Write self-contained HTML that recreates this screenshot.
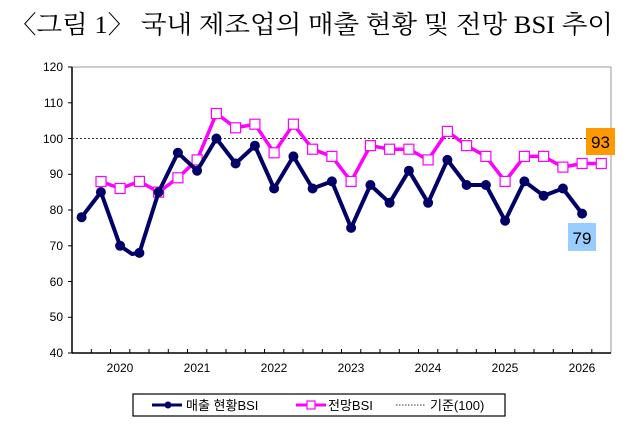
<!DOCTYPE html>
<html><head><meta charset="utf-8"><style>
body{margin:0;background:#fff;}
svg{display:block;}
</style></head><body>
<svg width="640" height="431" xmlns="http://www.w3.org/2000/svg" font-family="Liberation Sans, DejaVu Sans, sans-serif">
<text x="10" y="33" font-family="Liberation Serif, Noto Serif CJK SC, serif" font-size="25" fill="#000" textLength="603" lengthAdjust="spacingAndGlyphs">〈그림 1〉 국내 제조업의 매출 현황 및 전망 BSI 추이</text>
<g stroke="#000" stroke-width="1">
<line x1="72" y1="67" x2="611" y2="67" stroke="#999"/>
<line x1="611" y1="67" x2="611" y2="353" stroke="#999"/>
<line x1="72" y1="67" x2="72" y2="353" stroke-width="1.5"/>
<line x1="72" y1="353" x2="611" y2="353" stroke-width="1.5"/>
</g>
<g stroke="#000" stroke-width="1">
<line x1="68" y1="67" x2="72" y2="67"/><line x1="68" y1="102.8" x2="72" y2="102.8"/><line x1="68" y1="138.5" x2="72" y2="138.5"/><line x1="68" y1="174.3" x2="72" y2="174.3"/><line x1="68" y1="210" x2="72" y2="210"/><line x1="68" y1="245.8" x2="72" y2="245.8"/><line x1="68" y1="281.5" x2="72" y2="281.5"/><line x1="68" y1="317.3" x2="72" y2="317.3"/><line x1="68" y1="353" x2="72" y2="353"/>
</g>
<g font-size="12" fill="#000" text-anchor="end">
<text x="63" y="71">120</text><text x="63" y="107">110</text><text x="63" y="143">100</text><text x="63" y="178">90</text><text x="63" y="214">80</text><text x="63" y="250">70</text><text x="63" y="286">60</text><text x="63" y="321">50</text><text x="63" y="357">40</text>
</g>
<g stroke="#000" stroke-width="1" id="xt"></g>
<path d="M91.3 353v-4M110.5 353v-4M129.8 353v-4M149 353v-4M168.3 353v-4M187.5 353v-4M206.8 353v-4M226 353v-4M245.3 353v-4M264.5 353v-4M283.8 353v-4M303 353v-4M322.3 353v-4M341.5 353v-4M360.8 353v-4M380 353v-4M399.3 353v-4M418.5 353v-4M437.8 353v-4M457 353v-4M476.3 353v-4M495.5 353v-4M514.8 353v-4M534 353v-4M553.3 353v-4M572.5 353v-4M591.8 353v-4" stroke="#000" stroke-width="1"/>
<g font-size="12" fill="#000" text-anchor="middle">
<text x="120" y="372">2020</text><text x="197" y="372">2021</text><text x="274" y="372">2022</text><text x="351" y="372">2023</text><text x="428" y="372">2024</text><text x="505" y="372">2025</text><text x="582" y="372">2026</text>
</g>
<line x1="72" y1="138.5" x2="611" y2="138.5" stroke="#333" stroke-width="1" stroke-dasharray="2,2"/>
<polyline fill="none" stroke="#ff00ff" stroke-width="3.5" stroke-linejoin="round" points="100.9,181.4 120.1,188.5 139.4,181.4 158.6,192.1 177.9,177.8 197.1,159.9 216.4,113.5 235.6,127.8 254.9,124.2 274.1,152.8 293.4,124.2 312.6,149.2 331.9,156.4 351.1,181.4 370.4,145.6 389.6,149.2 408.9,149.2 428.1,159.9 447.4,131.4 466.6,145.6 485.9,156.4 505.1,181.4 524.4,156.4 543.6,156.4 562.9,167.1 582.1,163.5 601.3,163.5"/>
<g fill="#fff" stroke="#ff00ff" stroke-width="1.2" id="sq">
<rect x="96" y="176.5" width="10" height="10"/><rect x="115.1" y="183.5" width="10" height="10"/><rect x="134.4" y="176.4" width="10" height="10"/><rect x="153.6" y="187.1" width="10" height="10"/><rect x="172.9" y="172.8" width="10" height="10"/><rect x="192.1" y="154.9" width="10" height="10"/><rect x="211.4" y="108.5" width="10" height="10"/><rect x="230.6" y="122.8" width="10" height="10"/><rect x="249.9" y="119.2" width="10" height="10"/><rect x="269.1" y="147.8" width="10" height="10"/><rect x="288.4" y="119.2" width="10" height="10"/><rect x="307.6" y="144.2" width="10" height="10"/><rect x="326.9" y="151.4" width="10" height="10"/><rect x="346.1" y="176.4" width="10" height="10"/><rect x="365.4" y="140.6" width="10" height="10"/><rect x="384.6" y="144.2" width="10" height="10"/><rect x="403.9" y="144.2" width="10" height="10"/><rect x="423.1" y="154.9" width="10" height="10"/><rect x="442.4" y="126.4" width="10" height="10"/><rect x="461.6" y="140.6" width="10" height="10"/><rect x="480.9" y="151.4" width="10" height="10"/><rect x="500.1" y="176.4" width="10" height="10"/><rect x="519.4" y="151.4" width="10" height="10"/><rect x="538.6" y="151.4" width="10" height="10"/><rect x="557.9" y="162.1" width="10" height="10"/><rect x="577.1" y="158.5" width="10" height="10"/><rect x="596.3" y="158.5" width="10" height="10"/>
</g>
<polyline fill="none" stroke="#000066" stroke-width="4" stroke-linejoin="round" points="81.6,217.2 100.9,192.1 120.1,245.8 132,254 139.4,252.9 158.6,192.1 177.9,152.8 197.1,170.7 216.4,138.5 235.6,163.5 254.9,145.7 274.1,188.5 293.4,156.4 312.6,188.5 331.9,181.4 351.1,227.9 370.4,185 389.6,202.8 408.9,170.7 428.1,202.8 447.4,159.9 466.6,185 485.9,185 505.1,220.7 524.4,181.4 543.6,195.7 562.9,188.5 582.1,213.6"/>
<g fill="#000066">
<circle cx="81.6" cy="217.2" r="5"/><circle cx="100.9" cy="192.1" r="5"/><circle cx="120.1" cy="245.8" r="5"/><circle cx="139.4" cy="252.9" r="5"/><circle cx="158.6" cy="192.1" r="5"/><circle cx="177.9" cy="152.8" r="5"/><circle cx="197.1" cy="170.7" r="5"/><circle cx="216.4" cy="138.5" r="5"/><circle cx="235.6" cy="163.5" r="5"/><circle cx="254.9" cy="145.7" r="5"/><circle cx="274.1" cy="188.5" r="5"/><circle cx="293.4" cy="156.4" r="5"/><circle cx="312.6" cy="188.5" r="5"/><circle cx="331.9" cy="181.4" r="5"/><circle cx="351.1" cy="227.9" r="5"/><circle cx="370.4" cy="185" r="5"/><circle cx="389.6" cy="202.8" r="5"/><circle cx="408.9" cy="170.7" r="5"/><circle cx="428.1" cy="202.8" r="5"/><circle cx="447.4" cy="159.9" r="5"/><circle cx="466.6" cy="185" r="5"/><circle cx="485.9" cy="185" r="5"/><circle cx="505.1" cy="220.7" r="5"/><circle cx="524.4" cy="181.4" r="5"/><circle cx="543.6" cy="195.7" r="5"/><circle cx="562.9" cy="188.5" r="5"/><circle cx="582.1" cy="213.6" r="5"/>
</g>
<rect x="586" y="128" width="29" height="27" fill="#ff9900"/>
<text x="600.5" y="148" font-size="17" text-anchor="middle" fill="#000">93</text>
<rect x="568" y="223" width="28" height="28" fill="#99ccff"/>
<text x="582" y="244" font-size="17" text-anchor="middle" fill="#000">79</text>
<rect x="133" y="394" width="372" height="22" fill="#fff" stroke="#000" stroke-width="1.2"/>
<line x1="152" y1="405" x2="182" y2="405" stroke="#000066" stroke-width="3"/>
<circle cx="168" cy="405" r="3.5" fill="#000066"/>
<text x="186" y="410" font-size="13" fill="#000" font-family="Liberation Sans, Noto Sans CJK KR, sans-serif">매출 현황BSI</text>
<line x1="296" y1="405" x2="326" y2="405" stroke="#ff00ff" stroke-width="3"/>
<rect x="307" y="401" width="8" height="8" fill="#fff" stroke="#ff00ff" stroke-width="1.2"/>
<text x="328" y="410" font-size="13" fill="#000" font-family="Liberation Sans, Noto Sans CJK KR, sans-serif">전망BSI</text>
<line x1="396" y1="405" x2="426" y2="405" stroke="#333" stroke-width="1" stroke-dasharray="1.5,1.5"/>
<text x="430" y="410" font-size="13" fill="#000" font-family="Liberation Sans, Noto Sans CJK KR, sans-serif">기준(100)</text>
</svg>
</body></html>
